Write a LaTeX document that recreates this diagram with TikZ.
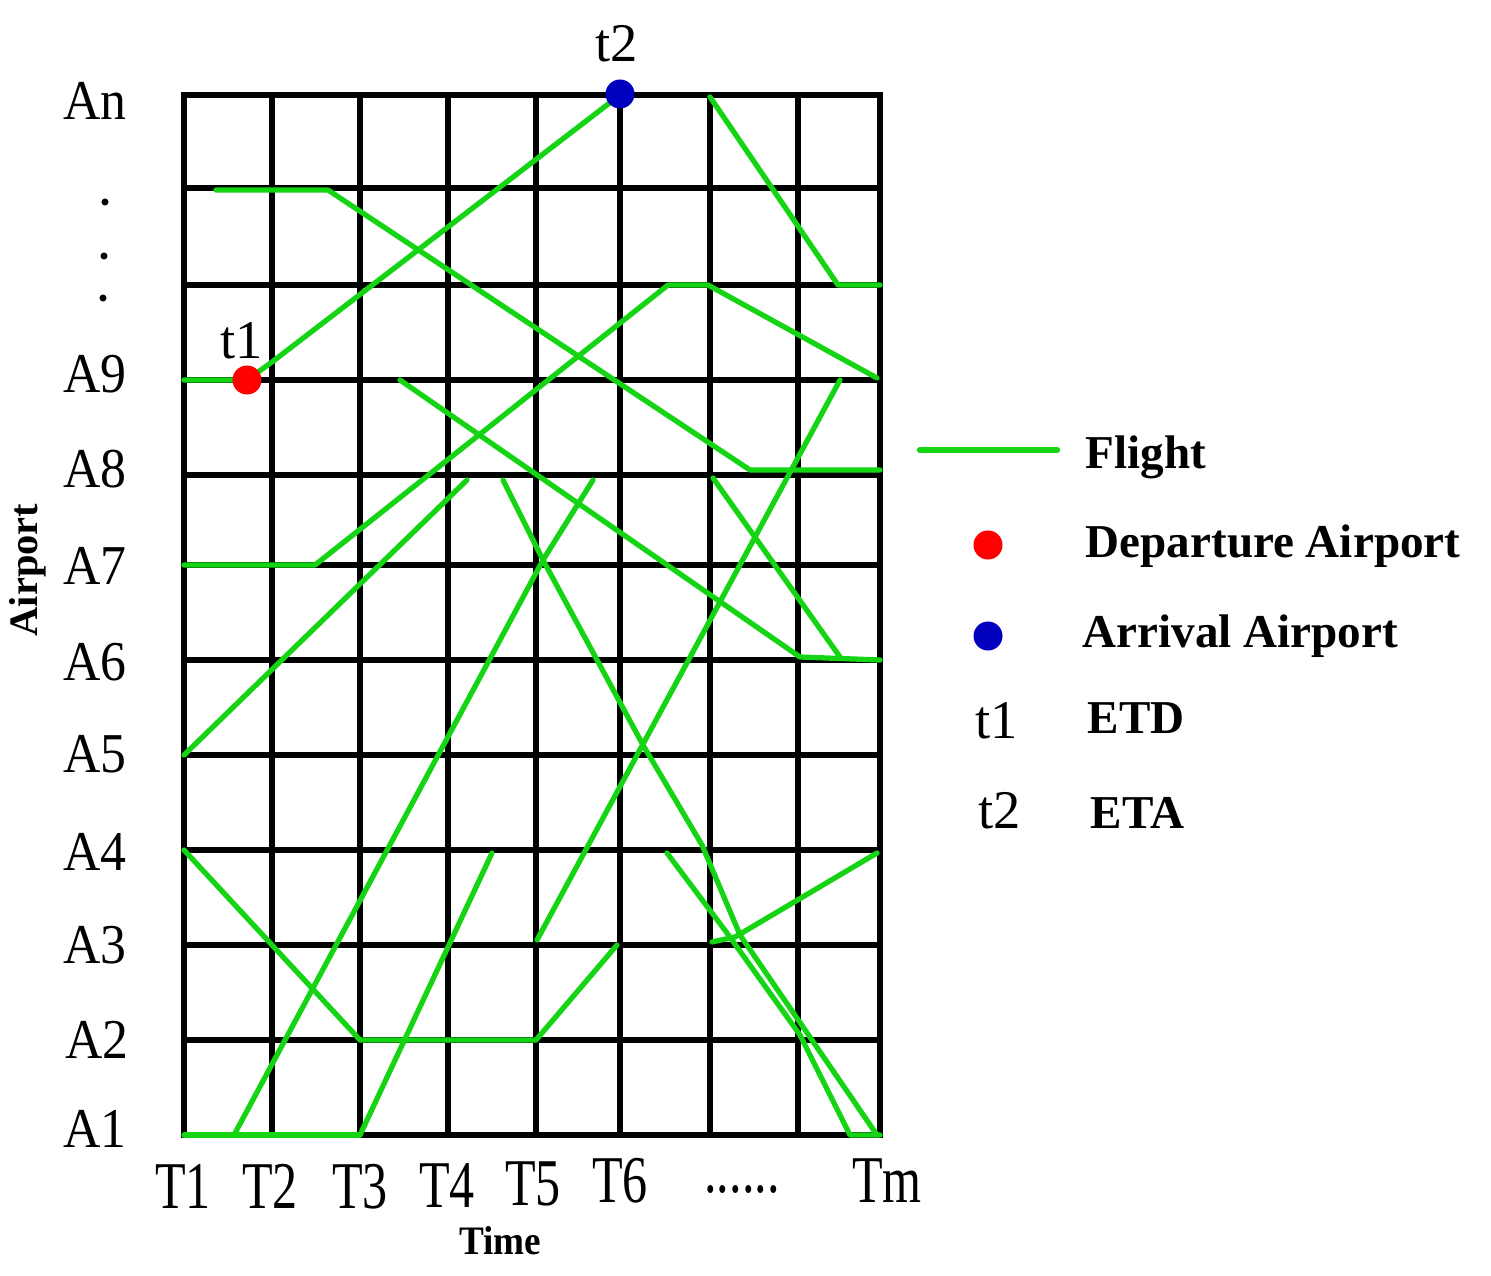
\documentclass[tikz,border=0pt]{standalone}
\usepackage{fontspec}
\usepackage{graphicx}
\setmainfont{Liberation Serif}
\definecolor{fgreen}{RGB}{20,212,20}
\definecolor{dotblue}{RGB}{0,0,190}
\begin{document}
\begin{tikzpicture}[x=0.01cm,y=-0.01cm,
  gridline/.style={line width=1.75pt,black,line cap=rect},
  flight/.style={line width=1.5pt,fgreen,line join=round,line cap=round},
  alab/.style={font=\fontsize{16pt}{18pt}\selectfont,anchor=base,inner sep=0pt},
  tlab/.style={font=\fontsize{19pt}{21pt}\selectfont,anchor=base,inner sep=0pt},
  leg/.style={font=\bfseries\fontsize{13.4pt}{15pt}\selectfont,anchor=base west,inner sep=0pt},
  small/.style={font=\fontsize{15.5pt}{17pt}\selectfont,anchor=base west,inner sep=0pt},
  apdot/.style={circle,inner sep=0pt,minimum size=0.29cm}]
\useasboundingbox (0,0) rectangle (1491,1276);
% grid
\foreach \x in {184,272,360,448,536,620,710,798,880}
  \draw[gridline] (\x,95) -- (\x,1135);
\foreach \y in {95,188,285,380,475,565,660,755,850,945,1040,1135}
  \draw[gridline] (184,\y) -- (880,\y);
% flights
\draw[flight] (184,380) -- (247,380) -- (272,362) -- (620,95);
\draw[flight] (216,190) -- (328,190) -- (750,470) -- (880,470);
\draw[flight] (710,97) -- (838,285) -- (880,285);
\draw[flight] (184,565) -- (315,565) -- (668,285) -- (708,285) -- (877,378);
\draw[flight] (400,380) -- (800,657) -- (880,660);
\draw[flight] (184,755) -- (467,480);
\draw[flight] (234,1135) -- (543,560) -- (593,480);
\draw[flight] (503,480) -- (543,560) -- (643,745) -- (702,845) -- (740,935) -- (877,1135);
\draw[flight] (667,853) -- (727,933) -- (800,1035) -- (850,1135) -- (880,1135);
\draw[flight] (184,850) -- (360,1040) -- (536,1040) -- (617,945);
\draw[flight] (360,1135) -- (492,853);
\draw[flight] (537,940) -- (840,380);
\draw[flight] (713,478) -- (840,657);
\draw[flight] (712,942) -- (735,937) -- (877,853);
\draw[flight] (184,1135) -- (360,1135);
% airport dots
\node[apdot,fill=red] (dep) at (247,380) {};
\node[apdot,fill=dotblue] (arr) at (620,94) {};
\node[small] (t1c) at (220,358) {t1};
\node[small] (t2c) at (595,62) {t2};
% airport labels
\node[alab] (an) at (95,120) {\scalebox{0.92}[1]{An}};
\node[alab] (a9) at (95,392) {\scalebox{0.92}[1]{A9}};
\node[alab] (a8) at (95,487) {\scalebox{0.92}[1]{A8}};
\node[alab] (a7) at (95,584) {\scalebox{0.92}[1]{A7}};
\node[alab] (a6) at (95,680) {\scalebox{0.92}[1]{A6}};
\node[alab] (a5) at (95,772) {\scalebox{0.92}[1]{A5}};
\node[alab] (a4) at (95,870) {\scalebox{0.92}[1]{A4}};
\node[alab] (a3) at (95,963) {\scalebox{0.92}[1]{A3}};
\node[alab] (a2) at (97,1058) {\scalebox{0.92}[1]{A2}};
\node[alab] (a1) at (95,1147) {\scalebox{0.92}[1]{A1}};
\fill (105,202) circle[radius=1pt];
\fill (104,256) circle[radius=1pt];
\fill (103,298) circle[radius=1pt];
\node[rotate=90,font=\bfseries\fontsize{11.5pt}{13pt}\selectfont,inner sep=0pt] (ylab) at (28,570) {Airport};
% time labels
\node[tlab] (T1) at (183,1208) {\scalebox{0.75}[1]{T1}};
\node[tlab] (T2) at (270,1208) {\scalebox{0.75}[1]{T2}};
\node[tlab] (T3) at (360,1208) {\scalebox{0.75}[1]{T3}};
\node[tlab] (T4) at (447,1207) {\scalebox{0.75}[1]{T4}};
\node[tlab] (T5) at (533,1205) {\scalebox{0.75}[1]{T5}};
\node[tlab] (T6) at (620,1202) {\scalebox{0.75}[1]{T6}};
\node[tlab] (Tdots) at (742,1192) {\scalebox{0.75}[1]{......}};
\node[tlab] (Tm) at (887,1202) {\scalebox{0.75}[1]{Tm}};
\node[font=\bfseries\fontsize{11.5pt}{13pt}\selectfont,anchor=base,inner sep=0pt] (xlab) at (500,1254) {\scalebox{0.92}[1]{Time}};
% legend
\coordinate (la) at (920,450);
\coordinate (lb) at (1057,450);
\draw[flight,line width=1.8pt] (la) -- (lb);
\node[leg] (lf) at (1085,468) {Flight};
\node[apdot,fill=red] (ldep) at (988,545) {};
\node[leg] (ld) at (1085,557) {Departure Airport};
\node[apdot,fill=dotblue] (larr) at (988,636) {};
\node[leg] (lr) at (1082,647) {Arrival Airport};
\node[small] (lt1) at (975,738) {t1};
\node[leg] (letd) at (1087,733) {ETD};
\node[small] (lt2) at (978,828) {t2};
\node[leg] (leta) at (1090,828) {ETA};
\end{tikzpicture}
\end{document}
